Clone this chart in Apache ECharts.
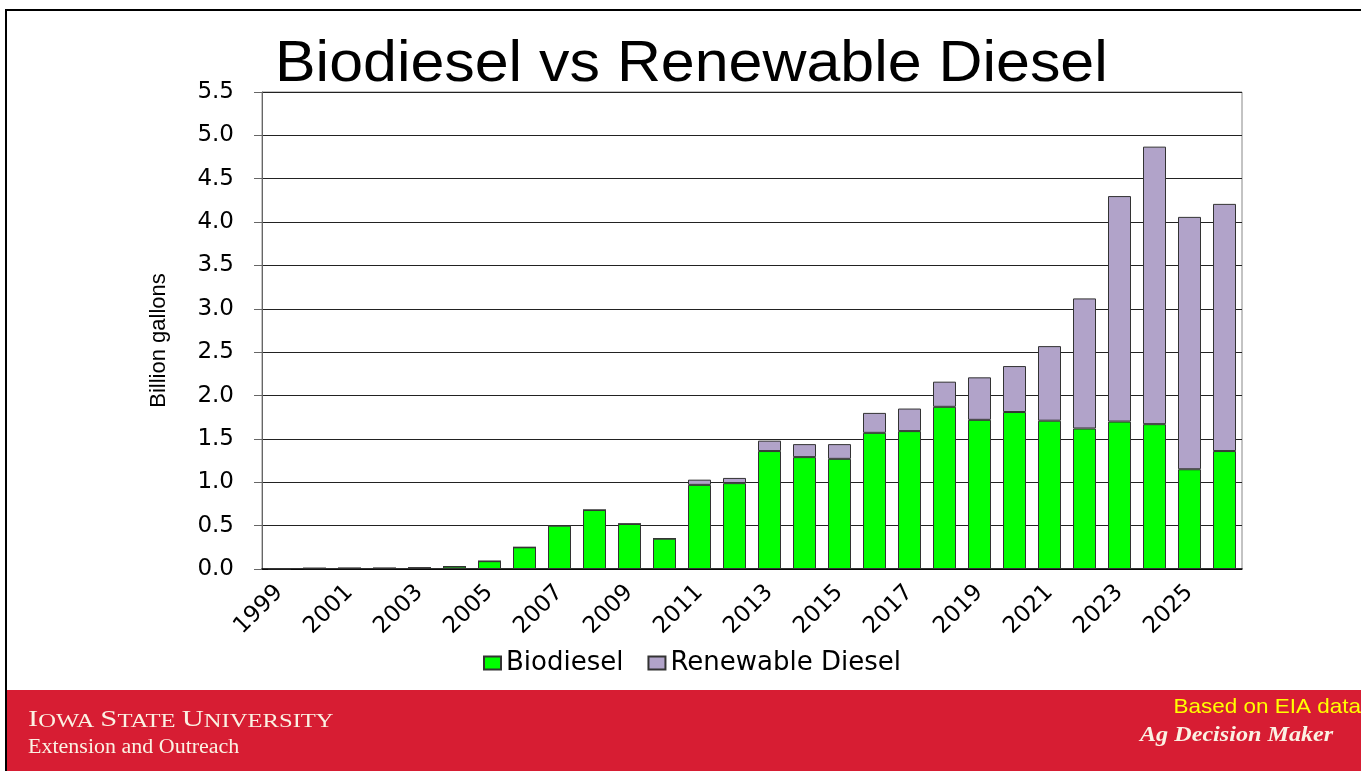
<!DOCTYPE html>
<html>
<head>
<meta charset="utf-8">
<script src="https://cdn.jsdelivr.net/npm/echarts@6/dist/echarts.min.js"></script>
<style>
  html, body { margin: 0; padding: 0; background: #fff; }
  #main { width: 1361px; height: 771px; }
</style>
</head>
<body>
<div id="main"></div>
<script>
// data (billion gallons)
var years = ['1999','2000','2001','2002','2003','2004','2005','2006','2007','2008','2009','2010','2011','2012',
             '2013','2014','2015','2016','2017','2018','2019','2020','2021','2022','2023','2024','2025','2026'];
var biodiesel = [0.005, 0.009, 0.01, 0.01, 0.014, 0.028, 0.09, 0.25, 0.50, 0.68, 0.52, 0.35, 0.97, 0.99,
                 1.36, 1.29, 1.27, 1.57, 1.59, 1.87, 1.72, 1.81, 1.71, 1.62, 1.70, 1.67, 1.15, 1.36];
var renewable = [0, 0, 0, 0, 0, 0, 0, 0, 0, 0, 0, 0, 0.06, 0.06,
                 0.12, 0.15, 0.17, 0.23, 0.26, 0.29, 0.49, 0.53, 0.86, 1.50, 2.60, 3.20, 2.91, 2.85];
var yTicks = { min: 0, max: 5.5, step: 0.5 };

var myChart = echarts.init(document.getElementById('main'));
var font = 'Liberation Sans, Arial, sans-serif';
var wide = 'DejaVu Sans, sans-serif';   // the pasted chart is stretched sideways, a wider face fits better
var serif = 'Liberation Serif, Times New Roman, serif';
var cream = '#fbf1e3';

option = {
  backgroundColor: '#fff',
  animation: false,
  legend: {
    left: 478,
    top: 645,
    icon: 'rect',
    itemWidth: 17,
    itemHeight: 13,
    itemGap: 24,
    textStyle: { fontFamily: wide, fontSize: 26, color: '#000' },
    data: ['Biodiesel', 'Renewable Diesel']
  },
  grid: {
    left: 262, right: 119, top: 92, bottom: 202,
    show: true, borderColor: '#888', borderWidth: 1
  },
  xAxis: {
    type: 'category',
    data: years,
    axisLine: { lineStyle: { color: '#000', width: 1.5 } },
    axisTick: { length: 7, lineStyle: { color: '#000' } },
    axisLabel: {
      interval: 1, rotate: 45, margin: 20,
      fontFamily: wide, fontSize: 23, color: '#000'
    }
  },
  yAxis: {
    type: 'value',
    min: yTicks.min, max: yTicks.max, interval: yTicks.step,
    name: 'Billion gallons',
    nameLocation: 'middle',
    nameGap: 92,
    nameTextStyle: { fontFamily: font, fontSize: 22, color: '#000', padding: [0, 20, 0, 0] },
    axisLine: { show: true, lineStyle: { color: '#666' } },
    axisTick: { show: true, length: 8, lineStyle: { color: '#666' } },
    axisLabel: {
      margin: 28, fontFamily: wide, fontSize: 23, color: '#000',
      formatter: function (v) { return v.toFixed(1); }
    },
    splitLine: { lineStyle: { color: '#222', width: 1 } }
  },
  series: [{
    name: 'Biodiesel',
    type: 'bar',
    stack: 'fuel',
    barWidth: 23,
    itemStyle: { color: '#00ff00', borderColor: '#333', borderWidth: 1 },
    data: biodiesel
  }, {
    name: 'Renewable Diesel',
    type: 'bar',
    stack: 'fuel',
    barWidth: 23,
    itemStyle: { color: '#b1a3c9', borderColor: '#333', borderWidth: 1 },
    data: renewable
  }],
  graphic: [
    // slide frame
    { type: 'rect', shape: { x: 5, y: 9, width: 1400, height: 2 }, style: { fill: '#000' } },
    { type: 'rect', shape: { x: 5, y: 9, width: 2, height: 770 }, style: { fill: '#000' } },
    // title
    {
      type: 'text', x: 275, y: 65, scaleX: 1.05,
      style: { text: 'Biodiesel vs Renewable Diesel', font: '58px ' + font, fill: '#000',
               align: 'left', verticalAlign: 'middle' }
    },
    // red footer band
    { type: 'rect', shape: { x: 7, y: 690, width: 1354, height: 81 }, style: { fill: '#d71d33' } },
    {
      type: 'text', x: 28, y: 720, scaleX: 1.33,
      style: {
        text: '{a|I}{b|OWA }{a|S}{b|TATE }{a|U}{b|NIVERSITY}',
        align: 'left', verticalAlign: 'middle',
        rich: {
          a: { fontFamily: serif, fontSize: 23, fill: cream },
          b: { fontFamily: serif, fontSize: 18.5, fill: cream, verticalAlign: 'bottom' }
        }
      }
    },
    {
      type: 'text', x: 28, y: 748, scaleX: 1.1,
      style: { text: 'Extension and Outreach', font: '20px ' + serif, fill: cream,
               align: 'left', verticalAlign: 'middle' }
    },
    {
      type: 'text', x: 1361, y: 707, scaleX: 1.07,
      style: { text: 'Based on EIA data', font: '21px ' + font, fill: '#ffff00',
               align: 'right', verticalAlign: 'middle' }
    },
    {
      type: 'text', x: 1140, y: 736, scaleX: 1.15,
      style: { text: 'Ag Decision Maker', font: 'italic bold 21px ' + serif, fill: cream,
               align: 'left', verticalAlign: 'middle' }
    }
  ]
};
myChart.setOption(option);
</script>
</body>
</html>
